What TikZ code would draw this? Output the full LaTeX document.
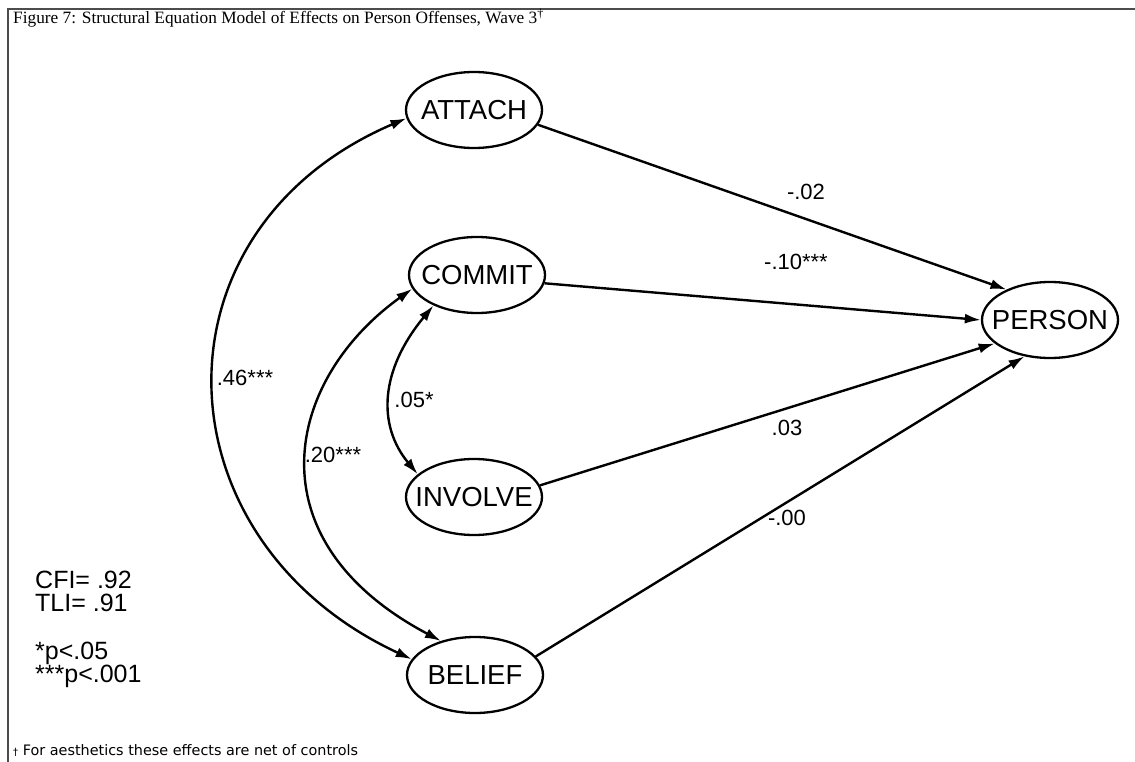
\documentclass[tikz,border=0pt]{standalone}
\usepackage{fontspec}
\setmainfont{Liberation Serif}
\newfontfamily\arialfont{Liberation Sans}
\newfontfamily\notefont{DejaVu Sans}
\usetikzlibrary{arrows.meta,shapes.geometric}
% zero-width box so every ellipse keeps the same size
\newcommand\ctext[1]{\makebox[0pt]{#1}}

\begin{document}
\begin{tikzpicture}[x=1pt,y=-1pt,
  latent/.style={ellipse, draw, line width=2.3pt, minimum width=136pt,
    minimum height=76pt, inner sep=0pt, font=\arialfont\fontsize{27.5}{30}\selectfont},
  effect/.style={line width=2.4pt, -{Latex[length=16pt,width=10pt]}},
  corr/.style={line width=2.4pt, {Latex[length=16pt,width=10pt]}-{Latex[length=16pt,width=10pt]}},
  coef/.style={font=\arialfont\fontsize{22}{24}\selectfont, inner sep=0pt},
  fitstat/.style={font=\arialfont\fontsize{25}{28}\selectfont, anchor=base west, inner sep=0pt}]

\useasboundingbox (0,0) rectangle (1135,762);

% frame
\draw[line width=2pt, black!70] (1135,9.5) -- (8,9.5) -- (8,762);

% title and footnote
\node[anchor=base west, inner sep=0pt, font=\fontsize{17.3}{20}\selectfont] (title) at (13,23.5)
  {Figure 7: Structural Equation Model of Effects on Person Offenses, Wave 3\textsuperscript{†}};
\node[anchor=base west, inner sep=0pt, font=\notefont\fontsize{14.4}{17}\selectfont] (note) at (13,755)
  {{\fontsize{10}{11}\selectfont †} For aesthetics these effects are net of controls};

% latent variables
\node[latent] (attach)  at (474,110) {\ctext{ATTACH}};
\node[latent] (commit)  at (477,275) {\ctext{COMMIT}};
\node[latent] (involve) at (474,497) {\ctext{INVOLVE}};
\node[latent] (belief)  at (475,675) {\ctext{BELIEF}};
\node[latent] (person)  at (1050,320) {\ctext{PERSON}};

% structural paths
\draw[effect] (attach.347)  -- (person.145);
\draw[effect] (commit.353)  -- (person.180);
\draw[effect] (involve.10)  -- (person.203);
\draw[effect] (belief.17)   -- (person.235);

% correlations
\draw[corr] (attach.187) .. controls (145,230) and (155,540) .. (belief.166);
\draw[corr] (commit.192) .. controls (285,380) and (250,540) .. (belief.135);
\draw[corr] (commit.215) .. controls (380,370) and (377,425) .. (involve.158);

% coefficients
\node[coef] (cA) at (806,192) {-.02};
\node[coef] (cC) at (796,262) {-.10***};
\node[coef] (cI) at (787,428) {.03};
\node[coef] (cB) at (787,518) {-.00};
\node[coef] (rAB) at (245,378) {.46***};
\node[coef] (rCB) at (333,455) {.20***};
\node[coef] (rCI) at (414,400) {.05*};

% fit statistics
\node[fitstat] (cfi) at (35,588) {CFI= .92};
\node[fitstat] (tli) at (35,611) {TLI= .91};
\node[fitstat] (p1)  at (35,659) {*p<.05};
\node[fitstat] (p3)  at (35,682) {***p<.001};
\end{tikzpicture}
\end{document}
